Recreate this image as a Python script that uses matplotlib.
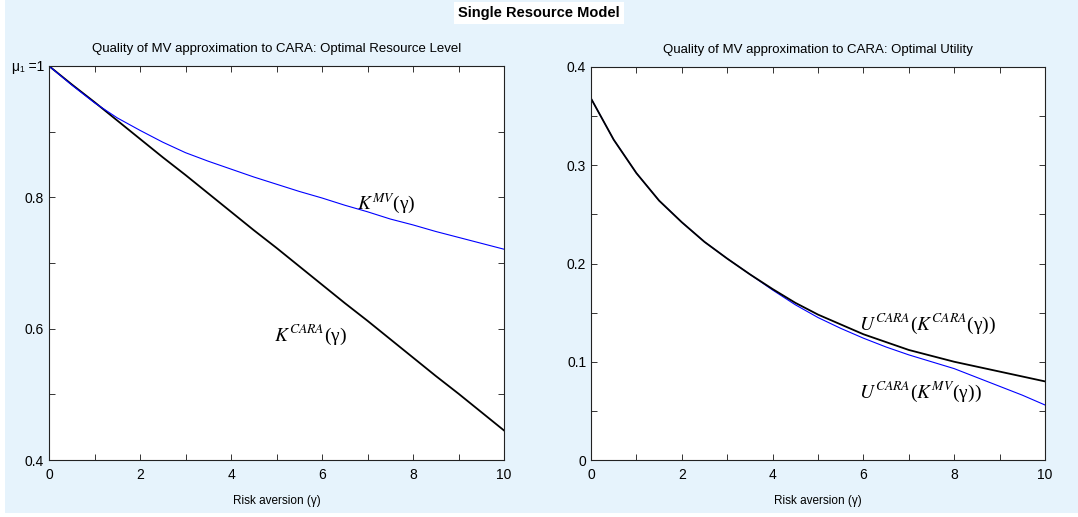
import matplotlib
matplotlib.use("Agg")
import matplotlib.pyplot as plt
from matplotlib.ticker import MultipleLocator, FixedLocator, FixedFormatter
from matplotlib.patches import Rectangle

# ---- data ----
gamma = [0, 0.5, 1, 1.5, 2, 2.5, 3, 3.5, 4, 4.5, 5, 5.5, 6, 6.5, 7, 7.5, 8, 8.5, 9, 9.5, 10]
k_cara = [1.0, 0.972, 0.945, 0.917, 0.889, 0.861, 0.834, 0.806, 0.778, 0.750, 0.723,
          0.695, 0.667, 0.639, 0.612, 0.584, 0.556, 0.528, 0.501, 0.473, 0.445]
k_mv = [1.0, 0.971, 0.944, 0.921, 0.902, 0.884, 0.868, 0.855, 0.843, 0.831, 0.820,
        0.809, 0.799, 0.788, 0.778, 0.767, 0.758, 0.748, 0.739, 0.730, 0.721]
u_cara_kcara = [0.368, 0.326, 0.292, 0.264, 0.242, 0.222, 0.205, 0.189, 0.174, 0.160, 0.148,
                0.138, 0.128, 0.120, 0.112, 0.106, 0.100, 0.095, 0.090, 0.085, 0.080]
u_cara_kmv = [0.368, 0.326, 0.292, 0.264, 0.242, 0.222, 0.205, 0.189, 0.173, 0.158, 0.145,
              0.134, 0.124, 0.115, 0.107, 0.100, 0.093, 0.084, 0.075, 0.066, 0.056]

left_yticks = [0.4, 0.6, 0.8, 1.0]
left_yticklabels = ["0.4", "0.6", "0.8", "μ₁ =1"]
right_yticks = [0, 0.1, 0.2, 0.3, 0.4]
right_yticklabels = ["0", "0.1", "0.2", "0.3", "0.4"]
xticks = [0, 2, 4, 6, 8, 10]

plt.rcParams['font.family'] = ['Liberation Sans', 'DejaVu Sans']
plt.rcParams['mathtext.fontset'] = 'stix'

W, H = 1078, 517
fig = plt.figure(figsize=(W / 100, H / 100), dpi=100, facecolor='white')
bg = '#e6f3fc'
fig.patches.append(Rectangle((5 / W, 4 / H), 1, 1, transform=fig.transFigure,
                             facecolor=bg, edgecolor='none', zorder=-10))

ax1 = fig.add_axes([49 / W, 1 - 460 / H, 455 / W, 394 / H])
ax2 = fig.add_axes([591 / W, 1 - 460 / H, 454 / W, 393 / H])

tick_fs = 10
for ax in (ax1, ax2):
    ax.set_facecolor('white')
    ax.set_xlim(0, 10)
    ax.xaxis.set_major_locator(FixedLocator(xticks))
    ax.xaxis.set_minor_locator(MultipleLocator(1))
    ax.tick_params(which='both', direction='in', top=True, right=True,
                   length=4, width=0.7, labelsize=tick_fs, color='#333333')
    ax.tick_params(axis='x', which='major', pad=6)
    ax.tick_params(axis='y', which='major', pad=3.5)
    for s in ax.spines.values():
        s.set_linewidth(0.8)
        s.set_color('#222222')
    ax.set_xlabel("Risk aversion (γ)", fontsize=8.5, labelpad=9)

# left panel
ax1.plot(gamma, k_cara, color='black', lw=1.3)
ax1.plot(gamma, k_mv, color='#0000ff', lw=0.8)
ax1.set_ylim(0.4, 1.0)
ax1.yaxis.set_major_locator(FixedLocator(left_yticks))
ax1.yaxis.set_major_formatter(FixedFormatter(left_yticklabels))
ax1.yaxis.set_minor_locator(MultipleLocator(0.1))
ax1.set_title("Quality of MV approximation to CARA: Optimal Resource Level",
              fontsize=9.5, pad=10)
lab_kw = dict(fontsize=14, family='Liberation Serif', va='center', ha='left')
ax1.text(6.77, 0.791, r"$K^{MV}$(γ)", **lab_kw)
ax1.text(4.95, 0.59, r"$K^{CARA}$(γ)", **lab_kw)

# right panel
ax2.plot(gamma, u_cara_kmv, color='#0000ff', lw=0.8)
ax2.plot(gamma, u_cara_kcara, color='black', lw=1.3)
ax2.set_ylim(0, 0.4)
ax2.yaxis.set_major_locator(FixedLocator(right_yticks))
ax2.yaxis.set_major_formatter(FixedFormatter(right_yticklabels))
ax2.yaxis.set_minor_locator(MultipleLocator(0.05))
ax2.set_title("Quality of MV approximation to CARA: Optimal Utility",
              fontsize=9.5, pad=10)
ax2.text(5.9, 0.138, r"$U^{CARA}$($K^{CARA}$(γ))", **lab_kw)
ax2.text(5.9, 0.069, r"$U^{CARA}$($K^{MV}$(γ))", **lab_kw)

fig.text(0.5, 1 - 13 / H, "Single Resource Model", ha='center', va='center',
         fontsize=10.5, fontweight='bold',
         bbox=dict(facecolor='white', edgecolor='none', pad=3))

fig.savefig("out.png", dpi=100, facecolor=fig.get_facecolor())
